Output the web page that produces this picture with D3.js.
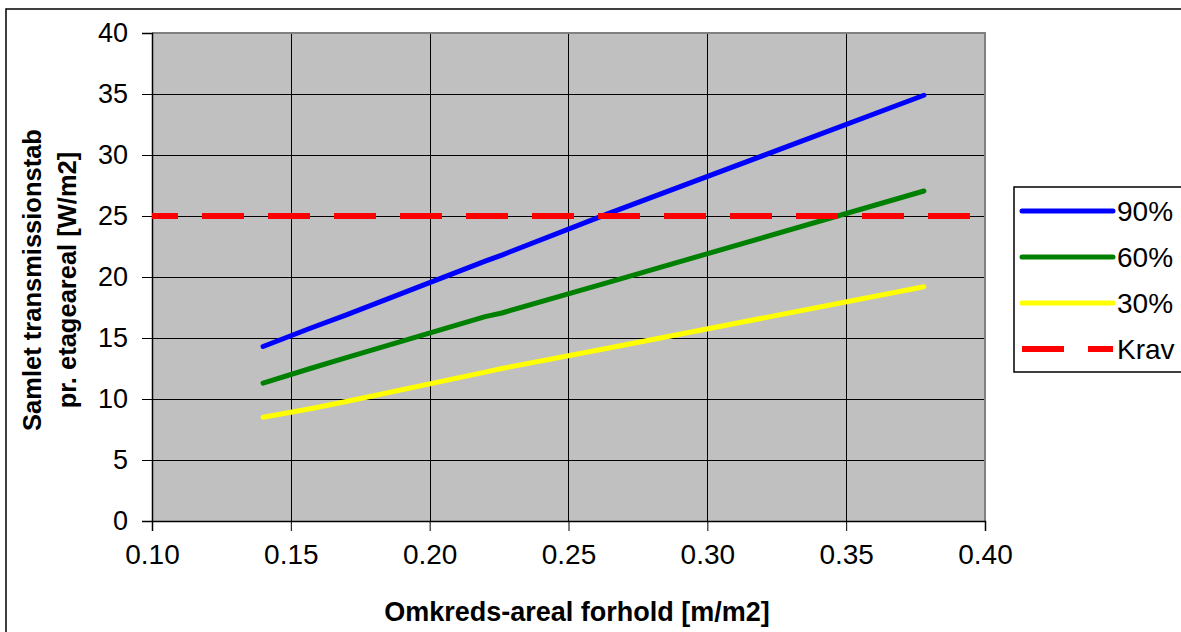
<!DOCTYPE html>
<html>
<head>
<meta charset="utf-8">
<script src="https://cdn.jsdelivr.net/npm/d3@7"></script>
<style>
  html, body { margin: 0; padding: 0; background: #fff; }
  svg { display: block; font-family: "Liberation Sans", Arial, sans-serif; }
</style>
</head>
<body>
<svg id="chart" width="1181" height="632"></svg>
<script>
// Perimeter-to-area ratio [m/m2] for the calculated buildings
const ratios = [0.140, 0.157, 0.170, 0.220, 0.226, 0.265, 0.378];
// Total transmission loss per floor area [W/m2] by glazing share
const glazing90 = [14.3, 15.8, 16.9, 21.3, 21.8, 25.25, 34.9];
const glazing60 = [11.3, 12.5, 13.4, 16.75, 17.05, 19.6, 27.05];
const glazing30 = [8.5, 9.2, 9.8, 12.2, 12.5, 14.2, 19.2];
// Requirement line
const kravX = [0.10, 0.40];
const kravY = [25, 25];

const xTicks = [0.10, 0.15, 0.20, 0.25, 0.30, 0.35, 0.40];
const yTicks = [0, 5, 10, 15, 20, 25, 30, 35, 40];
const seriesNames = ["90%", "60%", "30%", "Krav"];
const seriesColors = ["#0000ff", "#008000", "#ffff00", "#ff0000"];

const svg = d3.select("#chart");
const plot = { left: 152, top: 33, right: 985, bottom: 521 };

const x = d3.scaleLinear().domain([0.10, 0.40]).range([plot.left, plot.right]);
const y = d3.scaleLinear().domain([0, 40]).range([plot.bottom, plot.top]);

// outer chart frame
svg.append("rect")
  .attr("x", 6).attr("y", 9).attr("width", 1300).attr("height", 800)
  .attr("fill", "#fff").attr("stroke", "#000").attr("stroke-width", 1.5);

// plot background
svg.append("rect")
  .attr("x", plot.left).attr("y", plot.top)
  .attr("width", plot.right - plot.left).attr("height", plot.bottom - plot.top)
  .attr("fill", "#c0c0c0");

// gridlines
const grid = svg.append("g");
grid.selectAll("line.h").data(yTicks.slice(1, -1)).join("line")
  .attr("x1", plot.left).attr("x2", plot.right)
  .attr("y1", d => Math.round(y(d)) + 0.5).attr("y2", d => Math.round(y(d)) + 0.5)
  .attr("stroke", "#000").attr("stroke-width", 1);
grid.selectAll("line.v").data(xTicks.slice(1, -1)).join("line")
  .attr("y1", plot.top).attr("y2", plot.bottom)
  .attr("x1", d => Math.round(x(d)) + 0.5).attr("x2", d => Math.round(x(d)) + 0.5)
  .attr("stroke", "#000").attr("stroke-width", 1);

// plot border (top/right grey)
svg.append("path")
  .attr("d", `M${plot.left},${plot.top}H${plot.right}V${plot.bottom}`)
  .attr("fill", "none").attr("stroke", "#808080").attr("stroke-width", 2);

// axes
const yAxis = d3.axisLeft(y).tickValues(yTicks).tickSize(10).tickPadding(14)
  .tickFormat(d3.format("d"));
const gy = svg.append("g").attr("transform", `translate(${plot.left},0)`).call(yAxis);
gy.select(".domain").attr("stroke", "#000").attr("stroke-width", 1.5);
gy.selectAll(".tick line").attr("stroke", "#000");
gy.selectAll("text").attr("font-size", 27).attr("fill", "#000")
  .attr("font-family", "Liberation Sans, Arial, sans-serif");

const xAxis = d3.axisBottom(x).tickValues(xTicks).tickSize(10).tickPadding(13)
  .tickFormat(d3.format(".2f"));
const gx = svg.append("g").attr("transform", `translate(0,${plot.bottom})`).call(xAxis);
gx.select(".domain").attr("stroke", "#000").attr("stroke-width", 1.5);
gx.selectAll(".tick line").attr("stroke", "#000");
gx.selectAll("text").attr("font-size", 28).attr("fill", "#000")
  .attr("font-family", "Liberation Sans, Arial, sans-serif");

// series lines
const line = d3.line().x(d => x(d[0])).y(d => y(d[1]));
const solid = [glazing90, glazing60, glazing30];
solid.forEach((vals, i) => {
  svg.append("path")
    .datum(ratios.map((r, k) => [r, vals[k]]))
    .attr("d", line)
    .attr("fill", "none").attr("stroke", seriesColors[i])
    .attr("stroke-width", 5).attr("stroke-linecap", "round").attr("stroke-linejoin", "round");
});
svg.append("path")
  .datum(kravX.map((r, k) => [r, kravY[k]]))
  .attr("d", line)
  .attr("fill", "none").attr("stroke", seriesColors[3])
  .attr("stroke-width", 6).attr("stroke-dasharray", "42,24").attr("stroke-dashoffset", 16);

// axis titles
svg.append("text")
  .attr("x", 577).attr("y", 621).attr("text-anchor", "middle")
  .attr("font-size", 27).attr("font-weight", "bold")
  .text("Omkreds-areal forhold [m/m2]");

const yTitle = svg.append("text")
  .attr("transform", `translate(0,${(plot.top + plot.bottom) / 2 + 3}) rotate(-90)`)
  .attr("text-anchor", "middle").attr("font-size", 25.5).attr("font-weight", "bold");
yTitle.append("tspan").attr("x", 0).attr("y", 41).text("Samlet transmissionstab");
yTitle.append("tspan").attr("x", 0).attr("y", 76).text("pr. etageareal [W/m2]");

// legend
const legend = svg.append("g");
legend.append("rect")
  .attr("x", 1014).attr("y", 187).attr("width", 200).attr("height", 185)
  .attr("fill", "#fff").attr("stroke", "#000").attr("stroke-width", 1.5);
seriesNames.forEach((name, i) => {
  const ly = 211 + i * 46;
  const l = legend.append("line")
    .attr("x1", 1022).attr("x2", 1113).attr("y1", ly).attr("y2", ly)
    .attr("stroke", seriesColors[i]);
  if (i === 3) {
    l.attr("stroke-width", 6).attr("stroke-dasharray", "42,24");
  } else {
    l.attr("stroke-width", 5).attr("stroke-linecap", "round");
  }
  legend.append("text")
    .attr("x", 1117).attr("y", ly).attr("dy", "0.36em")
    .attr("font-size", 28).text(name);
});
</script>
</body>
</html>
